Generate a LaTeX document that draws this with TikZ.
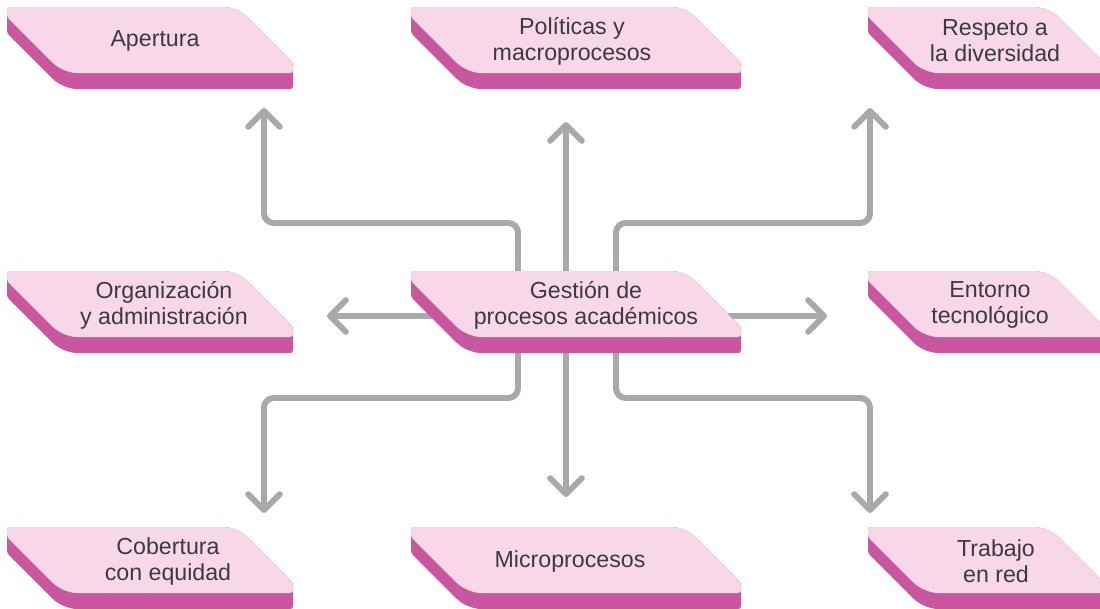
\documentclass[tikz,border=0pt]{standalone}
\usepackage{fontspec}
\setmainfont{Liberation Sans}
\usetikzlibrary{arrows.meta, backgrounds, calc}

\definecolor{rosa}{HTML}{F8D7E8}
\definecolor{fucsia}{HTML}{C9579F}
\definecolor{gris}{HTML}{A7A9AC}
\definecolor{tinta}{HTML}{3B3B3D}

% caja: #1 nombre, #2 x, #3 y, #4 ancho, #5 x del texto, #6 texto
\newcommand{\caja}[6]{%
\fill[fucsia] (#2,#3) [rounded corners=8pt] -- (#2+#4-56,#3) [rounded corners=1.5pt] -- (#2+#4,#3+56) -- (#2+#4,#3+82) [rounded corners=8pt] -- (#2+56,#3+82) [rounded corners=1.5pt] -- (#2,#3+26) -- cycle;
\fill[rosa] (#2,#3) [rounded corners=8pt] -- (#2+#4-56,#3) [rounded corners=1.5pt] -- (#2+#4,#3+56) -- (#2+#4,#3+66) [rounded corners=8pt] -- (#2+56,#3+66) [rounded corners=1.5pt] -- (#2,#3+10) -- cycle;
\node[rotulo] (#1) at (#5,#3+34) {#6};
}

\begin{document}
\begin{tikzpicture}[x=0.02cm, y=-0.02cm,
  flecha/.style={draw=gris, line width=3.4pt, rounded corners=5.5pt, -{Straight Barb[length=9pt, width=18pt, round]}},
  rotulo/.style={text=tinta, align=center, inner sep=0pt, font=\fontsize{13.2}{14.8}\selectfont}]
\useasboundingbox (0,0) rectangle (1100,609);

\caja{apertura}{7}{7}{286}{155}{Apertura}
\caja{politicas}{411}{7}{330}{572}{Políticas y\\macroprocesos}
\caja{respeto}{868}{7}{236}{995}{Respeto a\\la diversidad}
\caja{organizacion}{7}{271}{286}{164}{Organización\\y administración}
\caja{gpa}{411}{271}{330}{586}{Gestión de\\procesos académicos}
\caja{entorno}{868}{271}{236}{990}{Entorno\\tecnológico}
\caja{cobertura}{7}{527}{286}{168}{Cobertura\\con equidad}
\caja{micro}{411}{527}{330}{570}{Microprocesos}
\caja{trabajo}{868}{527}{236}{996}{Trabajo\\en red}

\begin{scope}[on background layer]
\coordinate (p-apertura) at (264,108);
\coordinate (p-politicas) at (566,122);
\coordinate (p-respeto) at (870,108);
\coordinate (p-organizacion) at (327,316);
\coordinate (p-entorno) at (827,316);
\coordinate (p-cobertura) at (264,513);
\coordinate (p-micro) at (566,497);
\coordinate (p-trabajo) at (870,513);

\draw[flecha] ($(gpa)+(-68,0)$) -- ++(0,-82) -| (p-apertura);
\draw[flecha] ($(gpa)+(-20,0)$) -- (p-politicas);
\draw[flecha] ($(gpa)+(30,0)$) -- ++(0,-82) -| (p-respeto);
\draw[flecha] ($(gpa)+(-100,11)$) -- (p-organizacion);
\draw[flecha] ($(gpa)+(100,11)$) -- (p-entorno);
\draw[flecha] ($(gpa)+(-68,0)$) -- ++(0,93) -| (p-cobertura);
\draw[flecha] ($(gpa)+(-20,0)$) -- (p-micro);
\draw[flecha] ($(gpa)+(30,0)$) -- ++(0,93) -| (p-trabajo);
\end{scope}
\end{tikzpicture}
\end{document}
